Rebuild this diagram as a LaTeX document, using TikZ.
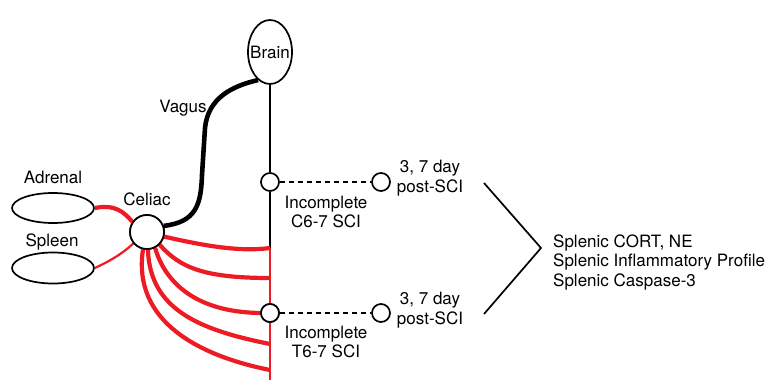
\documentclass[tikz,border=0pt]{standalone}
\usepackage{fontspec}
\setmainfont{TeX Gyre Heros}
\usetikzlibrary{shapes.geometric}
\definecolor{nred}{RGB}{237,28,36}
\tikzset{
  organ/.style={draw, ellipse, line width=1.7pt, inner sep=0pt, fill=white},
  ganglion/.style={draw, circle, line width=1.7pt, inner sep=0pt, fill=white},
  lbl/.style={font=\fontsize{17}{19.5}\selectfont, inner sep=0pt, align=center},
  nerve/.style={nred, line width=4.2pt},
  thinnerve/.style={nred, line width=2.2pt},
  cord/.style={black, line width=1.6pt},
  sham/.style={black, line width=1.7pt, dash pattern=on 5pt off 4pt},
}
\begin{document}
\begin{tikzpicture}[x=1pt,y=-1pt]
\useasboundingbox (0,0) rectangle (773,380);
% coordinates on the cord
\coordinate (r1) at (270,248);
\coordinate (r2) at (270,278);
\coordinate (r4) at (270,344);
\coordinate (r5) at (270,370);
\coordinate (bot) at (270,380);
\coordinate (ch1) at (484,183);
\coordinate (ch2) at (541,248);
\coordinate (ch3) at (484,314);
% nodes
\node[organ, minimum width=44pt, minimum height=64pt] (brain) at (270,52) {};
\node[lbl] (braint) at (270,52) {Brain};
\node[organ, minimum width=82pt, minimum height=30pt] (adrenal) at (53,208) {};
\node[organ, minimum width=82pt, minimum height=31pt] (spleen) at (53,268) {};
\node[ganglion, minimum size=18pt] (c1) at (270,182) {};
\node[ganglion, minimum size=18pt] (c2) at (270,313) {};
\node[ganglion, minimum size=18pt] (d1) at (381,182) {};
\node[ganglion, minimum size=18pt] (d2) at (381,313) {};
% lines
\draw[cord] (brain.south) -- (c1.north);
\draw[cord] (c1.south) -- (r1);
\draw[thinnerve] (r1) -- (c2.north);
\draw[thinnerve] (c2.south) -- (bot);
\draw[sham] (c1.east) -- (d1.west);
\draw[sham] (c2.east) -- (d2.west);
\node[ganglion, minimum size=34pt] (celiac) at (147,232) {};
% vagus
\draw[black, line width=4.6pt] (celiac.20) .. controls (196,222) and (201,205) .. (202,175)
  -- (205,128) .. controls (208,98) and (232,86) .. (brain.247);
% red nerves
\draw[nerve] (adrenal.east) .. controls (115,204) and (124,212) .. (celiac.145);
\draw[thinnerve] (spleen.east) .. controls (110,261) and (122,254) .. (celiac.220);
\draw[nerve] (celiac.-15) .. controls (205,246) and (240,252) .. (r1);
\draw[nerve] (celiac.-45) .. controls (180,268) and (205,278) .. (r2);
\draw[nerve] (celiac.-63) .. controls (165,282) and (195,312) .. (c2.west);
\draw[nerve] (celiac.-87) .. controls (150,310) and (200,330) .. (r4);
\draw[nerve] (celiac.-103) .. controls (132,322) and (200,356) .. (r5);
% redraw circles on top
\node[ganglion, minimum size=34pt] at (celiac) {};
\node[ganglion, minimum size=18pt] at (c2) {};
% chevron
\draw[black, line width=1.7pt] (ch1) -- (ch2) -- (ch3);
% labels
\node[lbl] (adrenalt) at (53,177) {Adrenal};
\node[lbl] (spleent) at (52,242) {Spleen};
\node[lbl] (celiact) at (147,199) {Celiac};
\node[lbl] (vagust) at (183,108) {Vagus};
\node[lbl] (inc1) at (326,212) {Incomplete\\C6-7 SCI};
\node[lbl] (inc2) at (326,342) {Incomplete\\T6-7 SCI};
\node[lbl] (post1) at (430,178) {3, 7 day\\post-SCI};
\node[lbl] (post2) at (430,310) {3, 7 day\\post-SCI};
\node[lbl, align=left, anchor=west] (out) at (553,262) {Splenic CORT, NE\\Splenic Inflammatory Profile\\Splenic Caspase-3};
\end{tikzpicture}
\end{document}
